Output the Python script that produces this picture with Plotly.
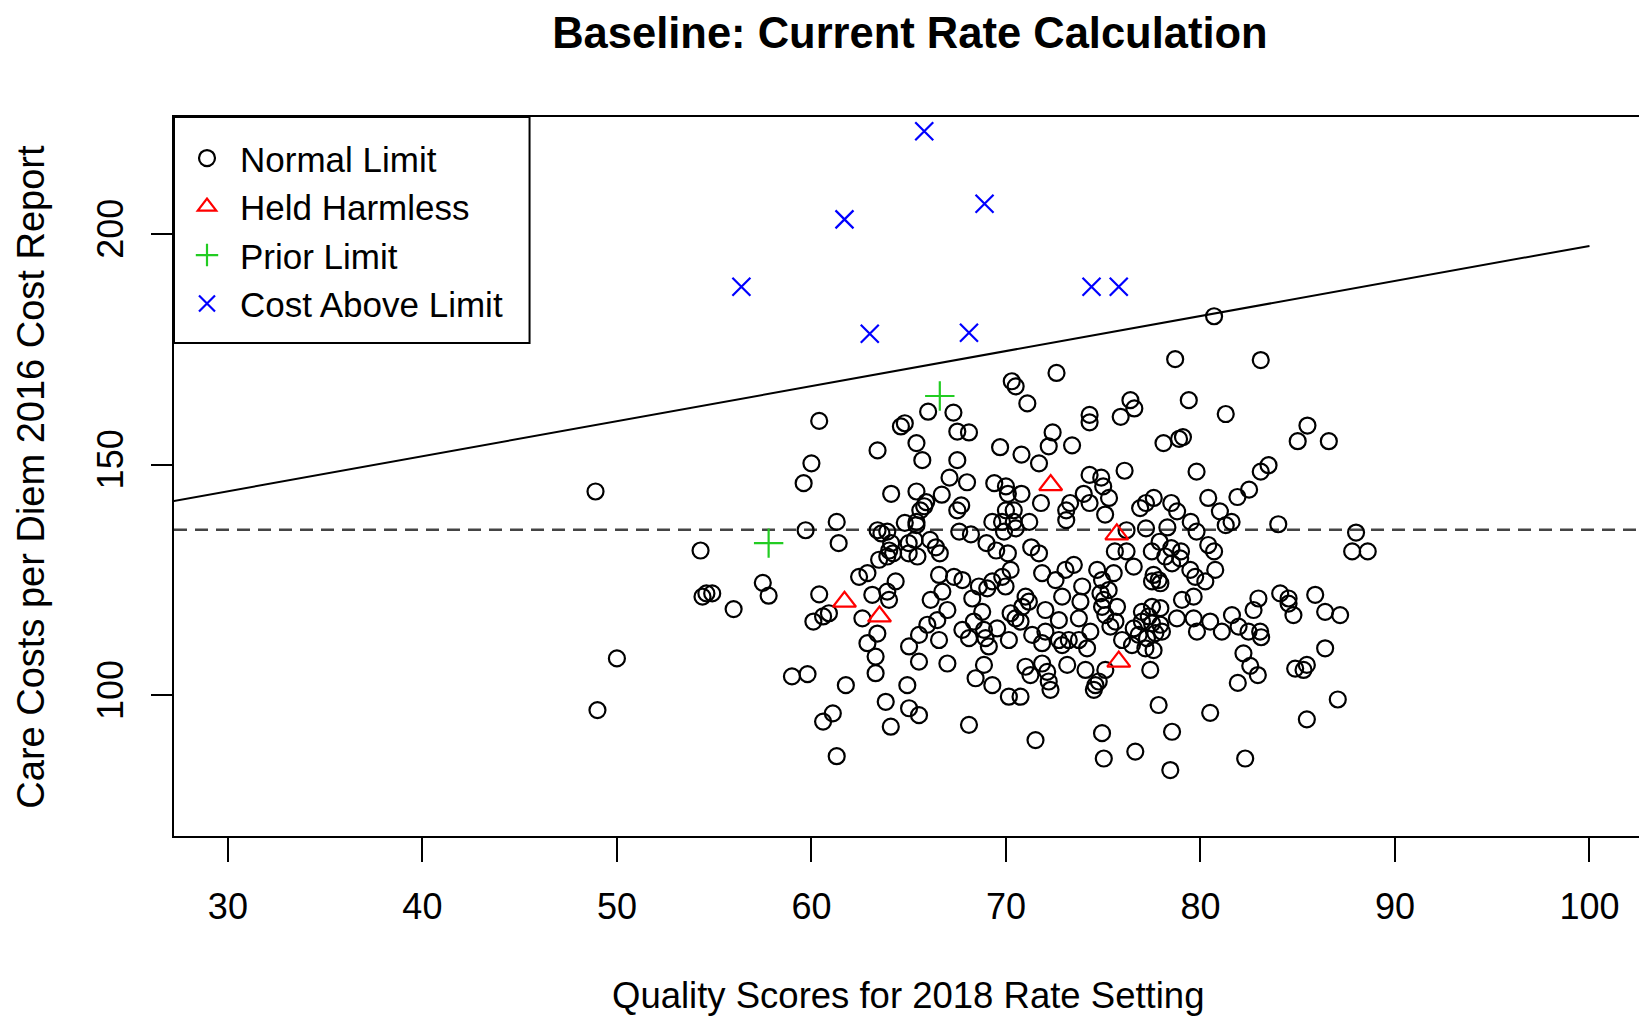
import plotly.graph_objects as go

FONT = "Liberation Sans, Arial, Helvetica, sans-serif"

title_text = "Baseline: Current Rate Calculation"
x_title = "Quality Scores for 2018 Rate Setting"
y_title = "Care Costs per Diem 2016 Cost Report"
x_ticks = [30, 40, 50, 60, 70, 80, 90, 100]
y_ticks = [100, 150, 200]

# Normal Limit (black open circles)
normal_x = [
    54.4, 54.6, 54.9, 56.0, 57.5, 57.8, 50.0, 49.0, 60.4, 60.1, 60.6, 60.9, 59.0, 59.8, 60.6, 61.1, 61.3,
    48.9, 54.3, 60.4, 60.0, 59.6, 59.7, 61.3, 61.4,
    72.6, 70.3, 70.5, 71.1, 74.3, 74.3, 66.0, 67.3, 64.6, 64.8, 67.5, 68.1, 63.4, 65.4, 65.7, 69.7, 70.8,
    71.7, 72.2, 72.4, 73.4, 67.5, 67.1, 68.0, 64.1, 65.4, 66.7, 65.9, 65.8, 65.6, 67.7, 67.5, 69.4, 70.0,
    70.1, 70.8, 71.8, 70.0, 70.4, 69.8, 70.4, 71.2, 69.3, 70.5, 69.9, 73.3, 73.1, 73.1, 74.0, 74.3, 74.3,
    74.9, 75.0, 63.4, 63.6, 63.9, 64.8, 65.4, 65.4, 65.3, 64.1, 64.0, 64.2, 63.9, 65.0, 65.0, 66.1, 66.4,
    66.6, 67.6, 68.2, 69.0, 69.5, 70.1, 71.3, 71.7,
    78.7, 83.1, 79.4, 76.4, 76.6, 75.9, 81.3, 78.1, 78.9, 79.1, 85.5, 85.0, 86.6, 76.1, 79.8, 83.1, 83.5,
    75.3, 75.1, 81.9, 82.5, 80.4, 77.6, 77.2, 76.9, 78.5, 78.8, 81.0, 81.6, 81.3, 79.5, 84.0, 88.0, 87.8,
    88.6, 77.2, 78.3, 76.2, 79.8, 77.9, 78.5, 80.4, 80.7, 75.6, 76.2, 77.5, 79.0, 80.7,
    62.45, 62.88, 63.48, 65.45, 63.13, 63.9, 64.33, 63.99, 62.62, 63.39, 62.88, 63.3, 63.3, 61.77, 63.82,
    64.08, 64.93, 65.02, 65.53, 65.02, 65.53, 65.53, 65.96, 66.47, 66.56, 66.13, 66.73, 66.99, 66.56,
    67.33, 67.76, 66.99, 68.1, 68.44, 68.87, 69.3, 70.15, 70.75, 67.76, 68.1, 68.35, 68.87, 69.12, 68.95,
    69.55, 70.15, 68.27, 68.61, 69.04, 69.3, 69.81, 70.24, 69.98, 68.78, 70.24, 70.49, 70.75, 71.01,
    71.18, 70.84, 71.35, 71.86, 72.03, 72.72, 72.89, 73.23, 73.75, 74.17, 74.34, 72.03, 72.72, 73.75,
    73.83, 71.01, 71.26, 71.86, 72.12, 72.2, 72.29, 73.15, 74.09, 74.6, 74.52, 74.77, 71.52, 71.86,
    72.55, 72.89, 73.49, 73.06, 73.92, 74.69, 74.86, 74.94, 74.94, 75.03,
    78.19, 76.57, 75.54, 74.94, 75.28, 75.03, 75.71, 75.11, 75.63, 75.37, 77.59, 77.85, 77.94, 77.51,
    78.54, 78.96, 79.48, 79.73, 80.25, 80.76, 79.05, 79.65, 76.99, 77.51, 77.94, 77.34, 76.99, 77.51,
    77.94, 78.02, 76.57, 76.82, 77.25, 77.68, 77.17, 77.59, 75.97, 76.48, 78.79, 79.65, 79.82, 80.5,
    81.1, 81.62, 81.96, 82.47, 82.73, 82.98, 83.07, 83.12, 84.1, 84.53, 84.53, 84.78, 85.9, 86.41,
    87.18, 86.41, 82.21, 82.56, 82.95, 81.92, 84.87, 85.3, 85.47, 75.11, 77.42, 77.85, 80.5, 78.54,
    76.65, 78.45, 82.3, 85.47, 87.06,
]
normal_y = [
    121.4, 122.1, 122.1, 118.7, 124.4, 121.6, 108.0, 96.8, 121.9, 116.0, 117.1, 117.8, 104.1, 104.6, 94.3, 96.1, 86.8,
    144.2, 131.4, 159.5, 150.3, 146.0, 135.8, 137.6, 133.0,
    169.9, 168.1, 167.0, 163.3, 160.8, 159.2, 161.5, 161.3, 158.3, 159.0, 157.2, 157.0, 153.1, 154.7, 151.0, 153.8, 152.2,
    150.3, 154.0, 157.0, 154.2, 151.0, 147.2, 146.2, 143.7, 144.2, 143.5, 141.9, 141.0, 140.1, 141.2, 140.1, 146.0, 145.3,
    143.7, 143.7, 141.7, 140.1, 140.1, 137.6, 137.6, 137.6, 137.6, 136.2, 135.5, 141.7, 140.1, 138.0, 143.7, 147.8, 141.7,
    147.2, 145.3, 135.8, 135.1, 135.5, 137.4, 137.6, 136.9, 133.7, 133.0, 131.4, 130.8, 130.1, 133.0, 130.8, 133.7, 132.1,
    130.8, 135.5, 134.9, 133.0, 131.4, 130.8, 132.1, 130.8,
    172.9, 172.7, 164.0, 164.0, 162.2, 160.4, 161.0, 154.7, 155.6, 156.0, 158.5, 155.1, 155.1, 148.7, 148.5, 148.5, 149.9,
    142.8, 139.2, 143.0, 144.6, 142.8, 142.8, 141.7, 140.6, 141.7, 139.9, 139.9, 137.6, 136.9, 137.6, 137.1, 135.3, 131.2,
    131.2, 136.2, 136.4, 135.8, 135.5, 133.3, 131.9, 132.6, 131.2, 131.2, 131.2, 131.2, 131.2, 182.2,
    125.7, 126.5, 129.4, 130.1, 121.8, 122.5, 124.7, 120.7, 116.7, 113.4, 111.3, 108.4, 104.8, 102.2, 98.6,
    93.2, 102.2, 97.2, 95.7, 110.6, 107.3, 113.1, 115.3, 116.3, 112.0, 120.7, 122.5, 118.5, 126.1,
    125.7, 125.0, 106.9, 93.6, 103.7, 106.6, 102.2, 99.7, 99.7, 114.2, 112.4, 116.0, 114.2, 110.6, 112.4,
    114.5, 112.0, 121.0, 123.6, 123.2, 124.7, 125.7, 127.2, 123.6, 118.1, 117.8, 116.7, 116.0, 121.4,
    120.3, 119.2, 113.1, 111.3, 113.8, 112.0, 110.9, 112.0, 112.0, 110.2, 113.8, 118.5, 116.3, 116.7,
    120.3, 106.2, 104.4, 106.9, 105.1, 103.0, 101.2, 106.6, 105.5, 102.2, 101.2, 103.0, 90.3, 126.5,
    125.0, 121.4, 128.3, 127.2, 123.6, 127.2, 122.1, 119.2, 91.8, 86.3,
    130.1, 127.9, 126.5, 125.0, 122.8, 120.7, 119.2, 117.4, 116.0, 114.9, 126.1, 125.0, 124.3, 124.7,
    128.6, 129.7, 127.2, 125.7, 124.7, 127.2, 120.7, 121.4, 118.1, 119.2, 118.9, 117.1, 116.0, 115.6,
    115.3, 113.8, 114.5, 113.1, 112.4, 113.5, 110.2, 109.8, 112.0, 110.9, 116.7, 116.7, 113.8, 116.0,
    113.8, 117.4, 114.9, 113.8, 118.5, 121.0, 113.8, 112.6, 122.1, 121.0, 119.9, 117.4, 121.8, 118.1,
    117.4, 110.2, 109.1, 106.4, 104.4, 102.7, 105.8, 105.5, 106.6, 105.5, 105.5, 97.9, 96.2, 92.1,
    87.8, 83.8, 86.3, 94.8, 99.1,
]

# Held Harmless (red open triangles)
held_x = [72.3, 75.7, 61.7, 63.5, 75.8]
held_y = [145.6, 134.9, 120.3, 117.1, 107.3]

# Prior Limit (green plus)
prior_x = [66.6, 57.8]
prior_y = [164.9, 133.0]

# Cost Above Limit (blue x)
above_x = [65.8, 61.7, 68.9, 56.4, 74.4, 75.8, 63.0, 68.1]
above_y = [222.3, 203.2, 206.6, 188.6, 188.6, 188.6, 178.4, 178.6]

# Limit line (solid) and mean cost (dashed)
limit_x = [0, 100]
limit_y = [121.45, 197.45]
mean_cost = 135.9
x_range = [27.23, 102.7]
y_range = [69.5, 225.4]

fig = go.Figure()

fig.add_trace(go.Scatter(x=limit_x, y=limit_y, mode="lines",
                         line=dict(color="black", width=2), showlegend=False, hoverinfo="skip"))
fig.add_trace(go.Scatter(x=[x_range[0], x_range[1]], y=[mean_cost, mean_cost], mode="lines",
                         line=dict(color="#444444", width=2.5, dash="13px,8px"),
                         showlegend=False, hoverinfo="skip"))

fig.add_trace(go.Scatter(x=normal_x, y=normal_y, mode="markers", name="Normal Limit",
                         marker=dict(symbol="circle-open", size=16, color="black",
                                     line=dict(width=2.2, color="black"))))
fig.add_trace(go.Scatter(x=held_x, y=held_y, mode="markers", name="Held Harmless",
                         marker=dict(symbol="triangle-up-open", size=20, color="red",
                                     line=dict(width=2.2, color="red"))))
fig.add_trace(go.Scatter(x=prior_x, y=prior_y, mode="markers", name="Prior Limit",
                         marker=dict(symbol="cross-thin-open", size=21, color="#22cc22",
                                     line=dict(width=2.2, color="#22cc22"))))
fig.add_trace(go.Scatter(x=above_x, y=above_y, mode="markers", name="Cost Above Limit",
                         marker=dict(symbol="x-thin-open", size=18, color="blue",
                                     line=dict(width=2.2, color="blue"))))

fig.update_layout(
    width=1639, height=1009,
    margin=dict(l=166, r=3, t=109, b=181, pad=0),
    paper_bgcolor="white", plot_bgcolor="white",
    font=dict(family=FONT, size=36, color="black"),
    title=dict(text="<b>" + title_text + "</b>", x=0.5503, xanchor="center",
               y=0.9752, yanchor="middle", font=dict(family=FONT, size=43.5, color="black")),
    showlegend=True,
    legend=dict(x=0, y=0.9836, xanchor="left", yanchor="top", bgcolor="rgba(0,0,0,0)",
                borderwidth=0, font=dict(family=FONT, size=35),
                itemwidth=56, tracegroupgap=0),
    shapes=[dict(type="rect", xref="paper", yref="paper", x0=0, x1=0.2422, y0=0.6857, y1=1,
                 line=dict(color="black", width=2), fillcolor="white", layer="below")],
    xaxis=dict(range=x_range, tickvals=x_ticks, ticks="outside", ticklen=24, tickwidth=2,
               tickcolor="black", showline=True, linecolor="black", linewidth=2, mirror=True,
               showgrid=False, zeroline=False, ticklabelstandoff=14,
               tickfont=dict(family=FONT, size=36)),
    yaxis=dict(range=y_range, tickvals=y_ticks, ticks="outside", ticklen=21, tickwidth=2,
               tickcolor="black", showline=True, linecolor="black", linewidth=2, mirror=True,
               showgrid=False, zeroline=False, tickangle=-90, ticklabelstandoff=14,
               tickfont=dict(family=FONT, size=36)),
    annotations=[
        dict(text=x_title, xref="paper", yref="paper", x=0.5, y=-0.2225,
             xanchor="center", yanchor="middle", showarrow=False,
             font=dict(family=FONT, size=36.5)),
        dict(text=y_title, xref="paper", yref="paper", x=-0.098, y=0.5,
             xanchor="center", yanchor="middle", showarrow=False, textangle=-90,
             font=dict(family=FONT, size=38)),
    ],
)

fig.write_html("out.html")
